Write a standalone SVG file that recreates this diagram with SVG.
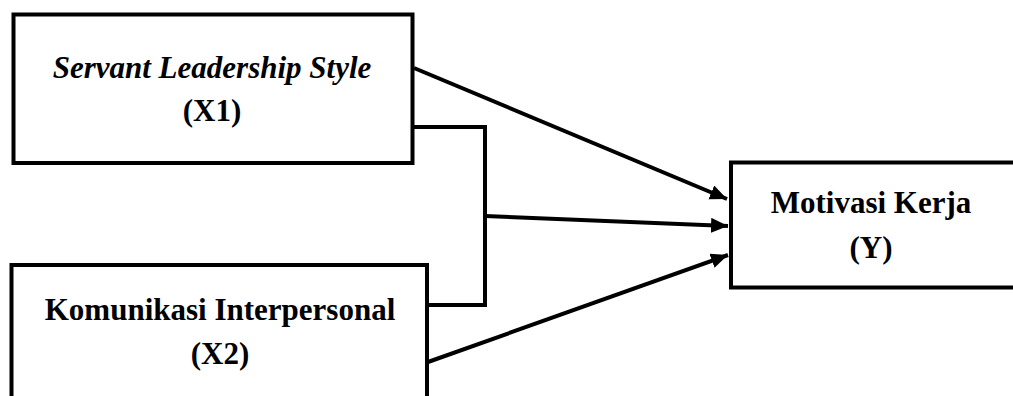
<svg xmlns="http://www.w3.org/2000/svg" width="1013" height="396" viewBox="0 0 1013 396">
<style>
.box{fill:#fff;stroke:#000;stroke-width:4}
.lbl{font-family:"Liberation Serif","Times New Roman",serif;font-weight:bold;font-size:31px;fill:#000;text-anchor:middle}
.it{font-style:italic}
.con{fill:none;stroke:#000;stroke-width:4}
</style>
<defs>
<marker id="ah" markerUnits="userSpaceOnUse" markerWidth="20" markerHeight="18" refX="17" refY="7.5" orient="auto">
<path d="M0,0 L17,7.5 L0,15 Z" fill="#000"/>
</marker>
</defs>
<rect width="1013" height="396" fill="#fff"/>
<g id="node-x1">
<rect class="box" x="13.5" y="14.5" width="399" height="148.5"/>
<text class="lbl it" x="212" y="78">Servant Leadership Style</text>
<text class="lbl" x="212" y="121">(X1)</text>
</g>
<g id="node-x2">
<rect class="box" x="11.5" y="265" width="415.5" height="150"/>
<text class="lbl" x="220" y="320">Komunikasi Interpersonal</text>
<text class="lbl" x="220" y="364">(X2)</text>
</g>
<g id="node-y">
<rect class="box" x="731" y="162.5" width="300" height="125"/>
<text class="lbl" x="871" y="213">Motivasi Kerja</text>
<text class="lbl" x="871" y="258">(Y)</text>
</g>
<g id="connectors">
<polyline class="con" points="413,127 485,127 485,305 427,305"/>
<line class="con" x1="414" y1="68" x2="727" y2="199" marker-end="url(#ah)"/>
<line class="con" x1="485" y1="216" x2="728" y2="226" marker-end="url(#ah)"/>
<line class="con" x1="428" y1="362" x2="728" y2="255" marker-end="url(#ah)"/>
</g>
</svg>
